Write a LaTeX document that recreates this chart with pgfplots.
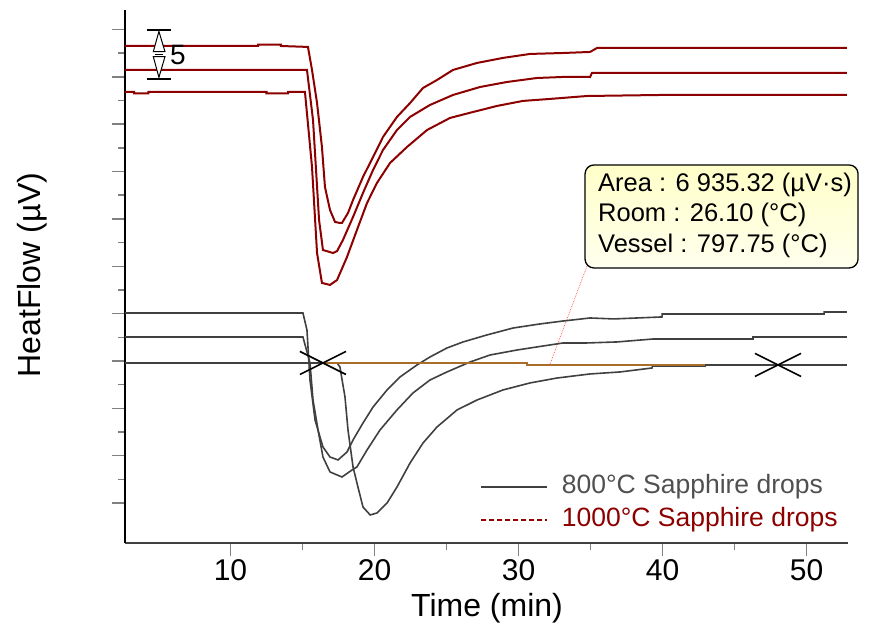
\documentclass[border=0pt]{standalone}
\usepackage{fontspec}
\setmainfont{Liberation Sans}
\usepackage{pgfplots}
\pgfplotsset{compat=1.18}
\definecolor{dred}{RGB}{140,0,0}
\definecolor{dgray}{RGB}{64,64,64}
\definecolor{ltgray}{RGB}{80,80,80}
\definecolor{orng}{RGB}{170,110,40}
\definecolor{tickgray}{RGB}{128,128,128}
\begin{document}
\begin{tikzpicture}
\useasboundingbox (-125pt,-90pt) rectangle (751pt,543pt);
\begin{axis}[
  at={(0pt,0pt)}, anchor=south west,
  scale only axis, width=723pt, height=533pt,
  xmin=2.674, xmax=52.88, ymin=-19.22, ymax=37.06,
  axis x line*=bottom, axis y line*=left,
  x axis line style={line width=2pt, color=dgray},
  y axis line style={line width=2pt, color=black},
  xtick={10,20,30,40,50}, minor x tick num=1,
  ytick={-15,-10,...,35}, minor y tick num=1, yticklabels={},
  tick align=outside,
  major tick length=13pt, minor tick length=6.5pt,
  tick style={tickgray, line width=1.5pt},
  /pgf/number format/assume math mode=true,
  ticklabel style={font=\fontsize{30}{36}\selectfont},
  xlabel={Time (min)}, ylabel={HeatFlow (µV)},
  every axis x label/.style={at={(axis description cs:0.5007,-0.122)}, anchor=center, font=\fontsize{32}{38}\selectfont},
  every axis y label/.style={at={(axis description cs:-0.1286,0.503)}, anchor=center, rotate=90, font=\fontsize{32}{38}\selectfont},
  clip=false,
  legend cell align=left,
  legend image code/.code={\draw[#1] (0pt,0pt) -- (66pt,0pt);},
  legend style={draw=none, fill=none, at={(axis cs:27.33,-11.85)}, anchor=north west,
    inner sep=0pt, font=\fontsize{26.5}{31}\selectfont, row sep=6pt,
    nodes={inner sep=2pt, text height=18pt, text depth=5pt},
    /tikz/every odd column/.style={column sep=12pt}},
]
\addlegendimage{dgray, line width=1.6pt}
\addlegendentry{\textcolor{ltgray}{800°C Sapphire drops}}
\addlegendimage{dred, line width=1.4pt, dash pattern=on 5pt off 3pt}
\addlegendentry{\textcolor{dred}{1000°C Sapphire drops}}

% leader line
\addplot[forget plot, red!70!white, line width=0.7pt, densely dotted] coordinates {(32.19,-0.32) (34.76,10.03)};

% 1000 C curves
\addplot[forget plot, dred, line width=2pt] coordinates {
(2.67,33.26) (11.91,33.26) (11.91,33.40) (13.5,33.40) (13.5,33.26) (15.38,33.16) (15.66,30.73) (16.01,27.24) (16.35,22.60) (16.56,18.37) (16.91,15.94) (17.26,14.68) (17.60,14.57) (17.74,14.57) (18.16,15.63) (18.51,17.00) (19.20,19.43) (19.90,21.54) (20.59,23.65) (21.56,25.77) (22.47,27.24) (23.37,28.83) (24.34,29.67) (25.45,30.73) (27.12,31.47) (28.92,32.00) (30.80,32.42) (33.09,32.52) (34.97,32.63) (35.45,33.05) (52.81,33.05)};
\addplot[forget plot, dred, line width=2pt] coordinates {
(2.67,30.73) (15.31,30.73) (15.73,25.45) (16.15,14.89) (16.42,11.72) (17.12,11.40) (17.40,11.60) (17.81,12.78) (18.51,15.21) (19.20,17.74) (19.90,20.17) (20.59,22.28) (21.56,24.39) (22.47,25.77) (23.85,27.03) (25.45,28.09) (27.33,28.93) (29.20,29.46) (31.28,29.88) (33.09,29.99) (34.97,29.99) (35.10,30.41) (52.81,30.41)};
\addplot[forget plot, dred, line width=2pt] coordinates {
(2.67,28.41) (3.3,28.41) (3.3,28.25) (4.3,28.25) (4.3,28.41) (12.5,28.41) (12.5,28.25) (14.0,28.25) (14.0,28.41) (15.17,28.41) (15.66,20.49) (16.01,11.40) (16.35,8.24) (16.91,8.03) (17.40,8.55) (18.09,10.98) (18.78,13.83) (19.48,16.68) (20.17,18.80) (21.08,20.91) (22.26,22.60) (23.65,24.39) (25.24,25.66) (26.84,26.29) (28.51,26.93) (30.31,27.46) (32.19,27.67) (34.76,27.98) (40.0,28.09) (52.81,28.09)};

% 800 C curves
\addplot[forget plot, dgray, line width=1.6pt] coordinates {
(2.67,5.07) (15.03,5.07) (15.31,3.27) (15.52,-2.01) (15.87,-6.23) (16.42,-9.08) (16.91,-10.14) (17.47,-10.45) (18.09,-9.61) (18.51,-8.34) (19.20,-6.55) (19.90,-4.86) (20.87,-3.06) (21.77,-1.69) (22.95,-0.42) (23.85,0.42) (25.03,1.37) (26.15,2.01) (27.81,2.75) (29.62,3.48) (31.49,3.91) (33.09,4.22) (34.97,4.54) (36.63,4.44) (39.97,4.65) (39.97,4.96) (51.22,4.96) (51.22,5.17) (52.81,5.17)};
\addplot[forget plot, dgray, line width=1.6pt] coordinates {
(2.67,2.53) (15.03,2.53) (15.52,-0.21) (15.73,-4.12) (16.08,-7.29) (16.42,-10.14) (16.91,-11.72) (17.74,-12.25) (18.44,-11.51) (18.78,-11.19) (19.48,-9.40) (20.38,-7.29) (21.56,-5.17) (22.67,-3.38) (23.85,-2.01) (25.03,-1.16) (26.63,-0.11) (28.02,0.63) (29.90,1.16) (31.70,1.58) (33.09,1.90) (34.69,1.90) (36.84,2.01) (39.34,2.32) (46.28,2.32) (46.28,2.53) (52.81,2.53)};
\addplot[forget plot, dgray, line width=1.6pt] coordinates {
(2.67,-0.21) (17.40,-0.21) (17.60,-0.63) (17.95,-3.80) (18.16,-7.29) (18.51,-11.19) (18.85,-13.31) (19.20,-15.42) (19.70,-16.26) (20.17,-16.05) (20.87,-15.00) (21.56,-13.31) (22.47,-10.77) (23.37,-8.66) (24.34,-6.97) (25.73,-5.17) (27.12,-4.12) (28.92,-3.06) (30.80,-2.32) (32.67,-1.80) (34.97,-1.37) (37.05,-1.16) (39.27,-0.74) (39.30,-0.53) (42.95,-0.53) (42.95,-0.42) (52.81,-0.42)};

% baseline
\addplot[forget plot, orng, line width=1.8pt] coordinates {(16.42,-0.21) (30.59,-0.21) (30.59,-0.42) (42.95,-0.42)};
% integration limits
\addplot[forget plot, only marks, mark=x, mark size=16.3pt, mark options={xscale=2, line width=1.6pt, black}] coordinates {(16.42,-0.21) (48.02,-0.42)};

% scale bar
\draw[black, line width=1.3pt] (axis cs:4.20,34.95) -- (axis cs:5.87,34.95);
\draw[black, line width=1.3pt] (axis cs:4.20,29.78) -- (axis cs:5.87,29.78);
\draw[black, line width=1pt, fill=white] (axis cs:5.03,34.80) -- (axis cs:4.64,32.66) -- (axis cs:5.45,32.66) -- cycle;
\draw[black, line width=1pt, fill=white] (axis cs:5.03,29.95) -- (axis cs:4.64,32.13) -- (axis cs:5.45,32.13) -- cycle;
\draw[black, line width=1pt] (axis cs:4.75,32.40) -- (axis cs:5.31,32.40);
\node[font=\fontsize{28}{30}\selectfont, anchor=center] at (axis cs:6.35,32.3) {5};

% annotation box
\draw[black, line width=1.3pt, rounded corners=9pt, top color={rgb,255:red,255;green,255;blue,200}, bottom color={rgb,255:red,255;green,255;blue,238}] (axis cs:34.62,20.70) rectangle (axis cs:53.58,9.82);
\node[anchor=west, align=left, font=\fontsize{25.5}{30.5}\selectfont, inner sep=0pt] at (axis cs:35.52,15.42) {Area : 6 935.32 (µV·s)\\Room : 26.10 (°C)\\Vessel : 797.75 (°C)};
\end{axis}
\end{tikzpicture}
\end{document}
